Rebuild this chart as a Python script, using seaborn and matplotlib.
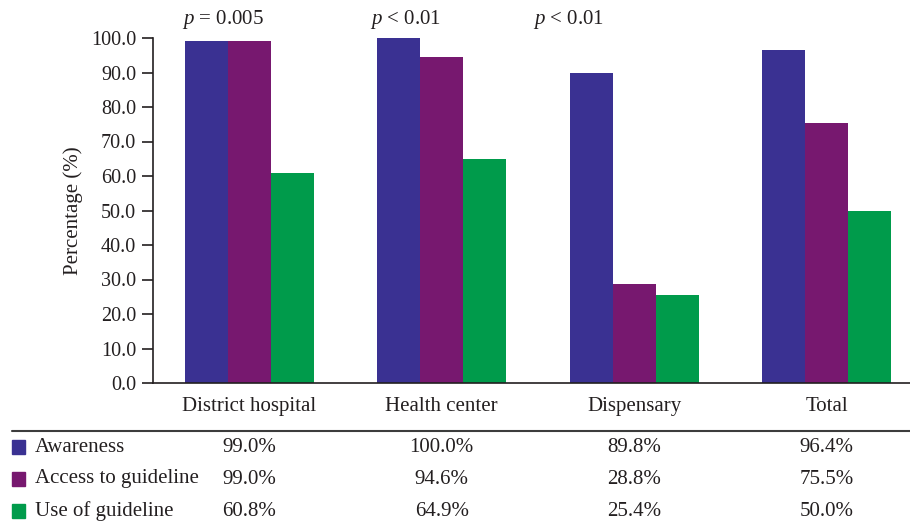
import numpy as np
import pandas as pd
import matplotlib
matplotlib.use("Agg")
import matplotlib.pyplot as plt
import seaborn as sns
from matplotlib.patches import Rectangle

categories = ["District hospital", "Health center", "Dispensary", "Total"]
series = ["Awareness", "Access to guideline", "Use of guideline"]
awareness = [99.0, 100.0, 89.8, 96.4]
access = [99.0, 94.6, 28.8, 75.5]
use_guide = [60.8, 64.9, 25.4, 50.0]
p_labels = ["= 0.005", "< 0.01", "< 0.01"]
yticks = [0, 10, 20, 30, 40, 50, 60, 70, 80, 90, 100]

colors = ["#3a3192", "#77186f", "#009b4b"]

df = pd.DataFrame({
    "category": categories * 3,
    "value": awareness + access + use_guide,
    "series": [s for s in series for _ in categories],
})

sns.set_style("white")
plt.rcParams["font.family"] = ["Liberation Serif", "DejaVu Serif"]
plt.rcParams["text.color"] = "#231f20"
plt.rcParams["mathtext.fontset"] = "custom"
plt.rcParams["mathtext.rm"] = "Liberation Serif"
plt.rcParams["mathtext.it"] = "Liberation Serif:italic"

fs = 15

fig = plt.figure(figsize=(9.1, 5.21), dpi=100)
ax = fig.add_axes([153 / 910, 1 - 383 / 521, 1 - 153 / 910, 345 / 521])

sns.barplot(data=df, x="category", y="value", hue="series", palette=colors,
            width=0.67, saturation=1, legend=False, linewidth=0, ax=ax)

ax.set_ylim(0, 100)
ax.set_xlim(-0.5, 3.5 - 13 / 192.5)
ax.set_yticks(yticks)
ax.set_yticklabels([f"{t:.1f}" for t in yticks], fontsize=14.5, color="#231f20")
ax.set_xticks(range(len(categories)))
ax.set_xticklabels(categories, fontsize=fs, color="#231f20")
ax.tick_params(axis="y", direction="out", length=8, width=1.2, color="#231f20", left=True, pad=4)
ax.tick_params(axis="x", length=0, pad=10)
ax.set_xlabel("")
ax.set_ylabel("Percentage (%)", fontsize=fs, color="#231f20", labelpad=6)
sns.despine(ax=ax, top=True, right=True)
for side in ["left", "bottom"]:
    ax.spines[side].set_color("#231f20")
    ax.spines[side].set_linewidth(1.2)

# p-values
p_x = [-0.135, 0.813, 1.657]
for x, lab in zip(p_x, p_labels):
    ax.text(x, 1.055, f"$\\mathit{{p}}$ {lab}", transform=ax.get_xaxis_transform(),
            ha="center", va="center", fontsize=fs)

# table under the chart
line_y = 1 - 431 / 521
fig.add_artist(plt.Line2D([12 / 910, 1], [line_y, line_y], color="#3c3c3c", lw=1.5))
row_y = [447, 479, 511]
rows = [awareness, access, use_guide]
for ry, name, col, vals in zip(row_y, series, colors, rows):
    fy = 1 - ry / 521
    fig.add_artist(Rectangle((12 / 910, fy - 7 / 521), 13 / 910, 14 / 521,
                             color=col, transform=fig.transFigure))
    fig.text(35 / 910, fy, name, ha="left", va="center", fontsize=fs)
    for i, v in enumerate(vals):
        ax.text(i, (383 - ry) / 345, f"{v:.1f}%", transform=ax.get_xaxis_transform(),
                ha="center", va="center", fontsize=fs)

fig.savefig("out.png", dpi=100)
